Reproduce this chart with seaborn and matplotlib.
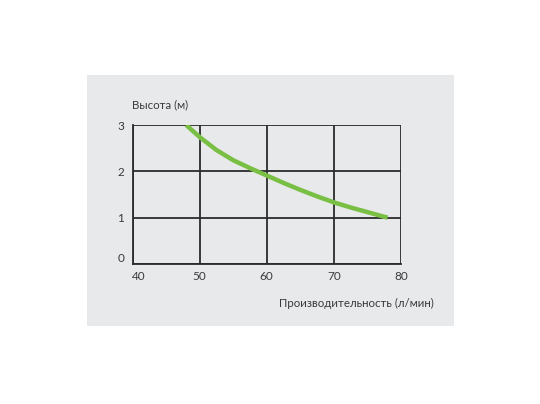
import matplotlib
matplotlib.use("Agg")
import matplotlib.pyplot as plt
import matplotlib.transforms as mtransforms
from matplotlib.patches import Rectangle
import seaborn as sns
import pandas as pd

# Data
flow = [48, 50, 52.5, 55, 57.5, 60, 62.5, 65, 67.5, 70, 72.5, 75, 78]
height = [3.0, 2.74, 2.46, 2.24, 2.07, 1.91, 1.75, 1.6, 1.46, 1.33, 1.22, 1.12, 1.0]
x_ticks = [40, 50, 60, 70, 80]
y_ticks = [0, 1, 2, 3]
y_title = "Высота (м)"
x_title = "Производительность (л/мин)"

df = pd.DataFrame({"flow": flow, "height": height})

sns.set_theme(style="white")
plt.rcParams["font.family"] = ["Lato", "DejaVu Sans"]

panel = "#e8e9eb"
grid_c = "#2b2b2b"
text_c = "#3a3a3a"

fig = plt.figure(figsize=(5.4, 4.04), dpi=100, facecolor="white")
fig.patches.append(Rectangle((87 / 540, 1 - 326 / 404), 367 / 540, 251 / 404,
                             transform=fig.transFigure, facecolor=panel,
                             edgecolor="none", zorder=-5))
ax = fig.add_axes([132.5 / 540, 1 - 264 / 404, 268.5 / 540, 139 / 404])
ax.set_zorder(2)
ax.set_facecolor(panel)

sns.lineplot(data=df, x="flow", y="height", ax=ax, color="#78bf43",
             linewidth=3.2, solid_capstyle="butt", solid_joinstyle="round",
             zorder=3)

ax.set_xlim(40, 80)
ax.set_ylim(0, 3)
ax.set_xticks(x_ticks)
ax.set_yticks(y_ticks)
ax.set_xticklabels([str(v) for v in x_ticks])
ax.set_yticklabels([str(v) for v in y_ticks])
ax.grid(True, color=grid_c, linewidth=1.3, zorder=1)
ax.set_axisbelow(False)
for s in ax.spines.values():
    s.set_visible(False)
ax.spines["left"].set_visible(True)
ax.spines["bottom"].set_visible(True)
ax.spines["left"].set_color(grid_c)
ax.spines["bottom"].set_color(grid_c)
ax.spines["left"].set_linewidth(1.3)
ax.spines["bottom"].set_linewidth(1.3)
ax.tick_params(axis="both", length=0, labelsize=8.5, labelcolor=text_c)
ax.tick_params(axis="x", pad=5)
ax.tick_params(axis="y", pad=6)
ax.set_xlabel("")
ax.set_ylabel("")

# shift corner labels to avoid overlap
xl = ax.get_xticklabels()[0]
xl.set_transform(xl.get_transform() + mtransforms.ScaledTranslation(6 / 100, 0, fig.dpi_scale_trans))
yl = ax.get_yticklabels()[0]
yl.set_transform(yl.get_transform() + mtransforms.ScaledTranslation(0, 6 / 100, fig.dpi_scale_trans))

fig.text(131.5 / 540, 1 - 105 / 404, y_title, ha="left", va="center",
         fontsize=8.3, color=text_c)
fig.text(434 / 540, 1 - 303 / 404, x_title, ha="right", va="center",
         fontsize=8.3, color=text_c)

fig.savefig("out.png", dpi=100, facecolor="white")
